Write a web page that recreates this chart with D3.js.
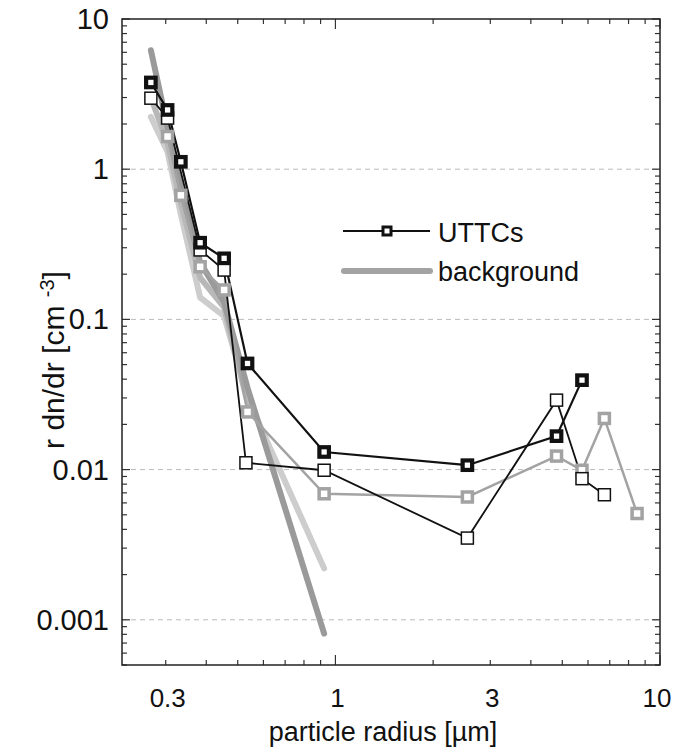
<!DOCTYPE html>
<html>
<head>
<meta charset="utf-8">
<script src="https://cdn.jsdelivr.net/npm/d3@7"></script>
<style>
  body { margin: 0; background: #fff; }
  svg text { font-family: "Liberation Sans", Arial, sans-serif; fill: #111; }
</style>
</head>
<body>
<svg class="chart" width="675" height="754"></svg>
<script>
// UTTCs, thick-bordered squares
var radiusA = [0.27, 0.304, 0.334, 0.383, 0.454, 0.536, 0.923, 2.55, 4.80, 5.75];
var valuesA = [3.78, 2.48, 1.12, 0.324, 0.255, 0.0509, 0.0131, 0.0107, 0.0167, 0.0394];

// UTTCs, thin open squares
var radiusB = [0.27, 0.304, 0.383, 0.454, 0.530, 0.923, 2.55, 4.80, 5.75, 6.74];
var valuesB = [2.97, 2.19, 0.29, 0.213, 0.0111, 0.0099, 0.0035, 0.029, 0.0087, 0.0068];

// grey series with squares
var radiusC = [0.304, 0.334, 0.383, 0.454, 0.536, 0.923, 2.55, 4.80, 5.75, 6.74, 8.5];
var valuesC = [1.65, 0.67, 0.224, 0.157, 0.0242, 0.0069, 0.00657, 0.0123, 0.0099, 0.0219, 0.0051];

// background fits (thick grey lines)
var radiusBg = [0.27, 0.304, 0.334, 0.383, 0.454, 0.536, 0.923];
var bgDark = [6.2, 1.9, 0.75, 0.24, 0.13, 0.035, 0.00081];
var bgLight = [2.23, 1.3, 0.5, 0.14, 0.105, 0.03, 0.0022];
var radiusBgMid = [0.27, 0.304, 0.334, 0.383, 0.454, 0.536];
var bgMid = [3.0, 1.5, 0.6, 0.19, 0.12, 0.028];

var xTickLabels = [0.3, 1, 3, 10];
var yTickLabels = ["0.001", "0.01", "0.1", "1", "10"];
var yTickValues = [0.001, 0.01, 0.1, 1, 10];

var pLeft = 122, pRight = 660, pTop = 19, pBottom = 665;

var chart = d3.select(".chart");

var x = d3.scaleLog().domain([0.22, 10]).range([pLeft, pRight]);
var y = d3.scaleLog().domain([0.0005, 10]).range([pBottom, pTop]);

// minor tick positions
var xMinor = [];
[0.1, 1].forEach(function(dec){
  for ( var i = 1; i < 10; i++ ) {
    var v = +(dec * i).toPrecision(3);
    if ( v >= 0.22 && v <= 10 ) xMinor.push(v);
  }
});
xMinor.push(10);
var yMinor = [];
[0.0001, 0.001, 0.01, 0.1, 1].forEach(function(dec){
  for ( var i = 1; i < 10; i++ ) {
    var v = +(dec * i).toPrecision(3);
    if ( v >= 0.0005 && v <= 10 ) yMinor.push(v);
  }
});
yMinor.push(10);

function isDecade(v) {
  var l = Math.log10(v);
  return Math.abs(l - Math.round(l)) < 1e-6;
}

// dashed grid
chart.append("g").selectAll("line")
  .data([0.001, 0.01, 0.1, 1])
  .enter().append("line")
    .attr("x1", pLeft).attr("x2", pRight)
    .attr("y1", function(d){ return y(d); })
    .attr("y2", function(d){ return y(d); })
    .attr("stroke", "#bbb")
    .attr("stroke-width", 1)
    .attr("stroke-dasharray", "5,4");

// ticks on all four sides
var tickG = chart.append("g").attr("stroke", "#333").attr("stroke-width", 1.2);
xMinor.forEach(function(v){
  var len = isDecade(v) ? 10 : 5;
  tickG.append("line").attr("x1", x(v)).attr("x2", x(v)).attr("y1", pBottom).attr("y2", pBottom - len);
  tickG.append("line").attr("x1", x(v)).attr("x2", x(v)).attr("y1", pTop).attr("y2", pTop + len);
});
yMinor.forEach(function(v){
  var len = isDecade(v) ? 8 : 5;
  tickG.append("line").attr("y1", y(v)).attr("y2", y(v)).attr("x1", pLeft).attr("x2", pLeft + len);
  tickG.append("line").attr("y1", y(v)).attr("y2", y(v)).attr("x1", pRight).attr("x2", pRight - len);
});

var line = d3.line()
  .x(function(d){ return x(d[0]); })
  .y(function(d){ return y(d[1]); });

function pairs(xs, ys) {
  return xs.map(function(v, i){ return [v, ys[i]]; });
}

// background thick lines
chart.append("path").datum(pairs(radiusBg, bgLight))
  .attr("d", line).attr("fill", "none")
  .attr("stroke", "#cdcdcd").attr("stroke-width", 6).attr("stroke-linecap", "round");
chart.append("path").datum(pairs(radiusBgMid, bgMid))
  .attr("d", line).attr("fill", "none")
  .attr("stroke", "#b8b8b8").attr("stroke-width", 6).attr("stroke-linecap", "round");
chart.append("path").datum(pairs(radiusBg, bgDark))
  .attr("d", line).attr("fill", "none")
  .attr("stroke", "#9a9a9a").attr("stroke-width", 6).attr("stroke-linecap", "round");

// grey series
chart.append("path").datum(pairs(radiusC, valuesC))
  .attr("d", line).attr("fill", "none")
  .attr("stroke", "#a3a3a3").attr("stroke-width", 2.5);

// UTTC lines
chart.append("path").datum(pairs(radiusB, valuesB))
  .attr("d", line).attr("fill", "none")
  .attr("stroke", "#111").attr("stroke-width", 1.8);
chart.append("path").datum(pairs(radiusA, valuesA))
  .attr("d", line).attr("fill", "none")
  .attr("stroke", "#111").attr("stroke-width", 2.2);

function squares(data, size, color, width, cls) {
  chart.selectAll("rect." + cls)
    .data(data)
    .enter().append("rect")
      .attr("class", cls)
      .attr("x", function(d){ return x(d[0]) - size / 2; })
      .attr("y", function(d){ return y(d[1]) - size / 2; })
      .attr("width", size)
      .attr("height", size)
      .attr("fill", "#fff")
      .attr("stroke", color)
      .attr("stroke-width", width);
}
squares(pairs(radiusC, valuesC), 10, "#a3a3a3", 3.5, "sqC");
squares(pairs(radiusB, valuesB), 12, "#111", 1.5, "sqB");
squares(pairs(radiusA, valuesA), 9.5, "#111", 4.2, "sqA");

// frame
chart.append("rect")
  .attr("x", pLeft).attr("y", pTop)
  .attr("width", pRight - pLeft).attr("height", pBottom - pTop)
  .attr("fill", "none").attr("stroke", "#222").attr("stroke-width", 1.5);

// tick labels
chart.selectAll("text.xl")
  .data(xTickLabels)
  .enter().append("text")
    .attr("class", "xl")
    .attr("x", function(d){ return Math.min(x(d) + 2, 657); })
    .attr("y", 707)
    .attr("text-anchor", "middle")
    .style("font-size", "26px")
    .text(function(d){ return d; });

chart.selectAll("text.yl")
  .data(yTickValues)
  .enter().append("text")
    .attr("class", "yl")
    .attr("x", 109)
    .attr("y", function(d){ return y(d) + 10; })
    .attr("text-anchor", "end")
    .style("font-size", "29px")
    .text(function(d, i){ return yTickLabels[i]; });

// axis titles
chart.append("text")
  .attr("x", 383).attr("y", 741)
  .attr("text-anchor", "middle")
  .style("font-size", "27px")
  .text("particle radius [\u00b5m]");

var yTitle = chart.append("text")
  .attr("transform", "translate(64,360) rotate(-90)")
  .attr("text-anchor", "middle")
  .style("font-size", "30px");
yTitle.append("tspan").text("r dn/dr [cm ");
yTitle.append("tspan").attr("dy", -10).style("font-size", "20px").text("-3");
yTitle.append("tspan").attr("dy", 10).text("]");

// legend
var lg = chart.append("g");
lg.append("line").attr("x1", 343).attr("x2", 430).attr("y1", 231).attr("y2", 231)
  .attr("stroke", "#111").attr("stroke-width", 2);
lg.append("rect").attr("x", 383).attr("y", 227).attr("width", 8).attr("height", 8)
  .attr("fill", "#fff").attr("stroke", "#111").attr("stroke-width", 3);
lg.append("line").attr("x1", 344).attr("x2", 430).attr("y1", 271).attr("y2", 271)
  .attr("stroke", "#a3a3a3").attr("stroke-width", 6).attr("stroke-linecap", "round");
lg.append("text").attr("x", 438).attr("y", 242).style("font-size", "27px").text("UTTCs");
lg.append("text").attr("x", 438).attr("y", 281).style("font-size", "27px").text("background");
</script>
</body>
</html>
